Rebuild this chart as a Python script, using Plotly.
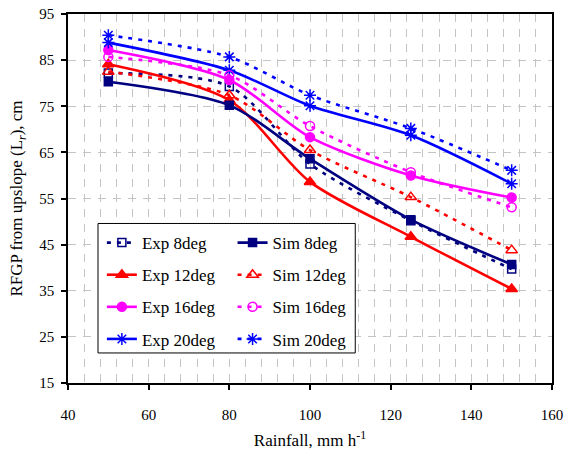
import plotly.graph_objects as go

# Rainfall intensity (mm/h)
rainfall = [50, 80, 100, 125, 150]

# RFGP from upslope (cm) for each slope angle
exp_8 = [82.2, 79.3, 62.5, 50.2, 39.7]
sim_8 = [80.3, 75.2, 63.6, 50.4, 40.7]
exp_12 = [84.1, 76.3, 58.6, 46.7, 35.4]
sim_12 = [82.5, 77.4, 65.5, 55.3, 43.8]
exp_16 = [87.2, 80.7, 68.3, 60.0, 55.2]
sim_16 = [85.7, 81.7, 70.7, 60.7, 53.1]
exp_20 = [88.8, 82.8, 75.1, 68.7, 58.2]
sim_20 = [90.4, 85.7, 77.4, 70.2, 61.1]

y_ticks = [15, 25, 35, 45, 55, 65, 75, 85, 95]
x_ticks = [40, 60, 80, 100, 120, 140, 160]

NAVY = "#000080"
RED = "#FF0000"
MAGENTA = "#FF00FF"
BLUE = "#0000FF"
FONT = "'Liberation Serif', 'Times New Roman', 'DejaVu Serif', serif"
DOT = "4px,6px"

fig = go.Figure()


def add_series(name, y, color, dashed, symbol, size, legend):
    fig.add_trace(go.Scatter(
        x=rainfall, y=y, name=name, mode="lines+markers",
        line=dict(color=color, width=2.6, shape="spline", smoothing=0.8,
                  dash=DOT if dashed else "solid"),
        marker=dict(symbol=symbol, size=size, color=color,
                    line=dict(color=color, width=1.5)),
        legend=legend, legendgroup=name,
    ))


# Left legend column
add_series("Exp 8deg", exp_8, NAVY, True, "square-open", 8, "legend")
add_series("Exp 12deg", exp_12, RED, False, "triangle-up", 10, "legend")
add_series("Exp 16deg", exp_16, MAGENTA, False, "circle", 9, "legend")
add_series("Exp 20deg", exp_20, BLUE, False, "asterisk-open", 10, "legend")
# Right legend column
add_series("Sim 8deg", sim_8, NAVY, False, "square", 8, "legend2")
add_series("Sim 12deg", sim_12, RED, True, "triangle-up-open", 10, "legend2")
add_series("Sim 16deg", sim_16, MAGENTA, True, "circle-open", 9, "legend2")
add_series("Sim 20deg", sim_20, BLUE, True, "asterisk-open", 10, "legend2")

grid_style = dict(gridcolor="#c4c4c4", gridwidth=1, griddash="8px,7px")

legend_common = dict(
    font=dict(family=FONT, size=17, color="black"),
    bgcolor="rgba(0,0,0,0)", borderwidth=0,
    tracegroupgap=7, itemwidth=30,
    xanchor="left", yanchor="top", y=0.428,
)

fig.update_layout(
    width=569, height=450,
    margin=dict(l=68, r=17, t=14, b=67, autoexpand=False),
    paper_bgcolor="white", plot_bgcolor="white",
    font=dict(family=FONT, size=15, color="black"),
    showlegend=True,
    legend=dict(x=0.070, **legend_common),
    legend2=dict(x=0.340, **legend_common),
    xaxis=dict(
        range=[40, 160], tickvals=x_ticks, ticks="outside", ticklen=5,
        tickwidth=1.5, tickcolor="black", ticklabelstandoff=12,
        tickfont=dict(family=FONT, size=15), automargin=False,
        showline=True, linecolor="black", linewidth=2, mirror=True,
        showgrid=True, **grid_style,
        minor=dict(dtick=4, tick0=40, showgrid=True, **grid_style),
        title=dict(text="Rainfall, mm h<sup>-1</sup>",
                   font=dict(family=FONT, size=17), standoff=15),
        zeroline=False,
    ),
    yaxis=dict(
        range=[15, 95], tickvals=y_ticks, ticks="outside", ticklen=5,
        tickwidth=1.5, tickcolor="black", ticklabelstandoff=4,
        tickfont=dict(family=FONT, size=15), automargin=False,
        showline=True, linecolor="black", linewidth=1.5, mirror=True,
        showgrid=True, **grid_style,
        title=dict(text="RFGP from upslope (L<sub><i>r</i></sub>), cm",
                   font=dict(family=FONT, size=17), standoff=12),
        zeroline=False,
    ),
    shapes=[dict(
        type="rect", xref="paper", yref="paper",
        x0=0.062, x1=0.5935, y0=0.0814, y1=0.4323,
        fillcolor="white", line=dict(color="black", width=1), layer="above",
    )],
)

fig.write_html("out.html")
